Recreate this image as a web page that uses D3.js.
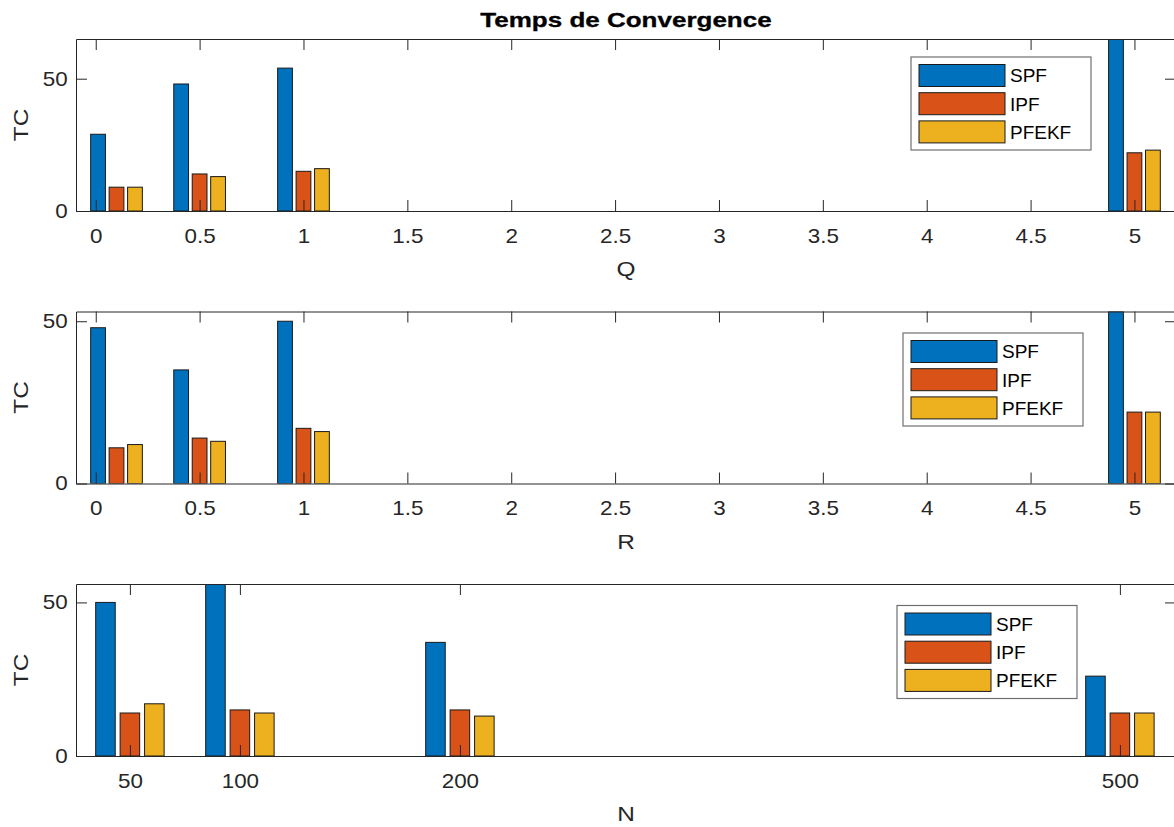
<!DOCTYPE html>
<html>
<head>
<meta charset="utf-8">
<script src="https://cdn.jsdelivr.net/npm/d3@7"></script>
<style>
  body { margin: 0; background: #fff; }
  svg { display: block; }
  text { font-family: "Liberation Sans", Arial, sans-serif; }
</style>
</head>
<body>
<svg width="1174" height="827"></svg>
<script>
// grouped bars, three panels, matlab style

var seriesNames = ['SPF', 'IPF', 'PFEKF'];
var seriesColors = ['#0072BD', '#D95319', '#EDB120'];

// panel 1 : Q
var qValues = [0.1, 0.5, 1, 5];
var qSPF = [29, 48, 54, 65];
var qIPF = [9, 14, 15, 22];
var qPFEKF = [9, 13, 16, 23];

// panel 2 : R
var rValues = [0.1, 0.5, 1, 5];
var rSPF = [48, 35, 50, 53];
var rIPF = [11, 14, 17, 22];
var rPFEKF = [12, 13, 16, 22];

// panel 3 : N
var nValues = [50, 100, 200, 500];
var nSPF = [50, 56, 37, 26];
var nIPF = [14, 15, 15, 14];
var nPFEKF = [17, 14, 13, 14];

var qrTicks = [0, 0.5, 1, 1.5, 2, 2.5, 3, 3.5, 4, 4.5, 5];
var nTicks = [50, 100, 200, 500];
var yTicks = [0, 50];

var panels = [
  { label: 'Q', x: qValues, series: [qSPF, qIPF, qPFEKF], ticks: qrTicks, xDomain: [-0.095, 5.2],
    top: 39, legendX: 911, legendY: 57 },
  { label: 'R', x: rValues, series: [rSPF, rIPF, rPFEKF], ticks: qrTicks, xDomain: [-0.095, 5.2],
    top: 311.5, legendX: 903, legendY: 333 },
  { label: 'N', x: nValues, series: [nSPF, nIPF, nPFEKF], ticks: nTicks, xDomain: [25.5, 525.5],
    top: 584, legendX: 897, legendY: 605.5 }
];

var left = 76, right = 1176, plotH = 172;
var axisColor = '#262626';
var svg = d3.select('svg');

svg.append('text')
  .attr('transform', 'translate(' + ((left + right) / 2) + ',27) scale(1.3,1)')
  .attr('text-anchor', 'middle')
  .style('font-size', '20px')
  .style('font-weight', 'bold')
  .style('fill', '#000')
  .style('stroke', '#000')
  .style('stroke-width', 0.3)
  .text('Temps de Convergence');

panels.forEach(function(p, pi) {
  var x = d3.scaleLinear().domain(p.xDomain).range([left, right]);
  var yMax = d3.max(p.series, function(s) { return d3.max(s); });
  var y = d3.scaleLinear().domain([0, yMax]).range([p.top + plotH, p.top]);

  // matlab grouped bar widths
  var minGap = d3.min(d3.pairs(p.x), function(d) { return d[1] - d[0]; });
  var n = p.series.length;
  var groupW = Math.min(0.8, n / (n + 1.5)) * minGap;
  var step = groupW / n;
  var barW = step * 0.8;

  var clipId = 'clip' + pi;
  svg.append('clipPath').attr('id', clipId)
    .append('rect')
    .attr('x', left).attr('y', p.top)
    .attr('width', right - left).attr('height', plotH);

  var g = svg.append('g');
  var bars = g.append('g').attr('clip-path', 'url(#' + clipId + ')');

  p.series.forEach(function(vals, si) {
    var off = (si - (n - 1) / 2) * step;
    bars.selectAll('rect.s' + si)
      .data(vals)
      .enter()
      .append('rect')
      .attr('class', 's' + si)
      .attr('x', function(d, i) { return x(p.x[i] + off - barW / 2); })
      .attr('width', function(d, i) { return x(p.x[i] + off + barW / 2) - x(p.x[i] + off - barW / 2); })
      .attr('y', function(d) { return y(d); })
      .attr('height', function(d) { return y(0) - y(d); })
      .style('fill', seriesColors[si])
      .style('stroke', '#1a1a1a')
      .style('stroke-width', 1);
  });

  var fmt = d3.format('~g');

  var xb = g.append('g')
    .attr('transform', 'translate(0,' + (p.top + plotH) + ')')
    .call(d3.axisBottom(x).tickValues(p.ticks).tickFormat(fmt).tickSize(-11).tickSizeOuter(0).tickPadding(17.5));
  var xt = g.append('g')
    .attr('transform', 'translate(0,' + p.top + ')')
    .call(d3.axisTop(x).tickValues(p.ticks).tickFormat('').tickSize(-11).tickSizeOuter(0));
  var yl = g.append('g')
    .attr('transform', 'translate(' + left + ',0)')
    .call(d3.axisLeft(y).tickValues(yTicks).tickFormat(fmt).tickSize(-11).tickSizeOuter(0).tickPadding(7.5));
  var yr = g.append('g')
    .attr('transform', 'translate(' + right + ',0)')
    .call(d3.axisRight(y).tickValues(yTicks).tickFormat('').tickSize(-11).tickSizeOuter(0));

  [xb, xt, yl, yr].forEach(function(a) {
    a.selectAll('path, line').style('stroke', axisColor).style('stroke-width', 1);
    a.selectAll('text')
      .style('font-size', '20px')
      .style('font-family', '"Liberation Sans", Arial, sans-serif')
      .style('fill', axisColor)
      .attr('transform', 'scale(1.12,1)');
  });

  // x label
  g.append('text')
    .attr('transform', 'translate(' + ((left + right) / 2) + ',' + (p.top + plotH + 65) + ') scale(1.22,1)')
    .attr('text-anchor', 'middle')
    .style('font-size', '20px')
    .style('fill', axisColor)
    .text(p.label);

  // y label
  g.append('text')
    .attr('transform', 'translate(28,' + (p.top + plotH / 2) + ') rotate(-90) scale(1.22,1)')
    .attr('text-anchor', 'middle')
    .style('font-size', '20px')
    .style('fill', axisColor)
    .text('TC');

  // legend
  var lg = g.append('g').attr('transform', 'translate(' + p.legendX + ',' + p.legendY + ')');
  lg.append('rect')
    .attr('width', 180).attr('height', 93)
    .style('fill', '#fff')
    .style('stroke', '#707070')
    .style('stroke-width', 1.2);
  seriesNames.forEach(function(name, si) {
    var ry = 7.5 + si * 28.2;
    lg.append('rect')
      .attr('x', 8).attr('y', ry)
      .attr('width', 86).attr('height', 22)
      .style('fill', seriesColors[si])
      .style('stroke', '#1a1a1a')
      .style('stroke-width', 1);
    lg.append('text')
      .attr('x', 99).attr('y', ry + 11)
      .attr('dy', '0.36em')
      .style('font-size', '19px')
      .style('fill', '#000')
      .text(name);
  });
});
</script>
</body>
</html>
